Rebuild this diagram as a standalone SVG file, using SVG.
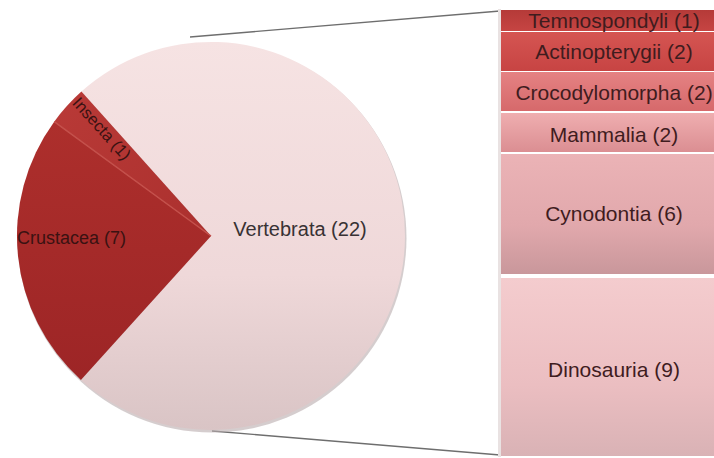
<svg xmlns="http://www.w3.org/2000/svg" width="714" height="458" viewBox="0 0 714 458">
<style>
.lbl{font-family:"Liberation Sans",Arial,sans-serif;fill:#3f1c1e;}
.bar{font-size:21px;text-anchor:middle;}
.conn{stroke:#6e6e6e;stroke-width:1.4;fill:none;}
</style>
<defs>
<linearGradient id="gV" x1="0" y1="0" x2="0" y2="1"><stop offset="0" stop-color="#f6e3e3"/><stop offset="0.6" stop-color="#efd8d9"/><stop offset="1" stop-color="#d9c4c5"/></linearGradient>
<linearGradient id="gC" x1="0" y1="0" x2="0" y2="1"><stop offset="0" stop-color="#ad2f2c"/><stop offset="1" stop-color="#9d2526"/></linearGradient>
<linearGradient id="gI" x1="0" y1="0" x2="1" y2="1"><stop offset="0" stop-color="#b93a37"/><stop offset="1" stop-color="#ab302e"/></linearGradient>
<linearGradient id="g1" x1="0" y1="0" x2="0" y2="1"><stop offset="0" stop-color="#b53a38"/><stop offset="1" stop-color="#c64543"/></linearGradient>
<linearGradient id="g2" x1="0" y1="0" x2="0" y2="1"><stop offset="0" stop-color="#d55552"/><stop offset="1" stop-color="#c74443"/></linearGradient>
<linearGradient id="g3" x1="0" y1="0" x2="0" y2="1"><stop offset="0" stop-color="#e58283"/><stop offset="1" stop-color="#d6696b"/></linearGradient>
<linearGradient id="g4" x1="0" y1="0" x2="0" y2="1"><stop offset="0" stop-color="#efaeb0"/><stop offset="1" stop-color="#db8e92"/></linearGradient>
<linearGradient id="g5" x1="0" y1="0" x2="0" y2="1"><stop offset="0" stop-color="#ebb3b6"/><stop offset="0.6" stop-color="#e1a8ac"/><stop offset="1" stop-color="#c9979b"/></linearGradient>
<linearGradient id="g6" x1="0" y1="0" x2="0" y2="1"><stop offset="0" stop-color="#f4ccce"/><stop offset="0.6" stop-color="#ebbec1"/><stop offset="1" stop-color="#d9b2b5"/></linearGradient>
<clipPath id="pieClip"><circle cx="211" cy="236" r="194"/></clipPath>
</defs>
<rect width="714" height="458" fill="#ffffff"/>

<g id="connectors">
<line class="conn" x1="190" y1="37" x2="500" y2="11"/>
<line class="conn" x1="212" y1="431" x2="500" y2="455"/>
</g>

<circle cx="212" cy="238" r="194.5" fill="#b9acad" opacity="0.6"/>

<g id="vertebrata">
<path d="M211,236 L81.4,91.6 A194,194 0 1 1 80.9,379.9 Z" fill="url(#gV)"/>
<text class="lbl" x="300" y="236" font-size="20" text-anchor="middle" style="fill:#383234">Vertebrata (22)</text>
</g>
<g id="crustacea">
<path d="M211,236 L80.9,379.9 A194,194 0 0 1 54.2,121.7 Z" fill="url(#gC)"/>
<text class="lbl" x="17" y="244" font-size="18" style="fill:#3a1212">Crustacea (7)</text>
</g>
<g id="insecta">
<path d="M211,236 L54.2,121.7 A194,194 0 0 1 81.4,91.6 Z" fill="url(#gI)"/>
<line x1="211" y1="236" x2="54.2" y2="121.7" stroke="#c4504b" stroke-width="1.5"/>
<g clip-path="url(#pieClip)">
<text class="lbl" transform="translate(71.6,103.5) rotate(48)" font-size="16.5" style="fill:#3a1212">Insecta (1)</text>
</g>
</g>

<rect x="498" y="9" width="3" height="448" fill="#e9e2e2"/>

<g id="temnospondyli">
<rect x="501" y="10" width="220" height="21" fill="url(#g1)"/>
<text class="lbl bar" x="614" y="28">Temnospondyli (1)</text>
</g>
<g id="actinopterygii">
<rect x="501" y="32" width="220" height="39" fill="url(#g2)"/>
<text class="lbl bar" x="614" y="59">Actinopterygii (2)</text>
</g>
<g id="crocodylomorpha">
<rect x="501" y="72" width="220" height="39" fill="url(#g3)"/>
<text class="lbl bar" x="614" y="100">Crocodylomorpha (2)</text>
</g>
<g id="mammalia">
<rect x="501" y="113" width="220" height="39" fill="url(#g4)"/>
<text class="lbl bar" x="614" y="142">Mammalia (2)</text>
</g>
<g id="cynodontia">
<rect x="501" y="154" width="220" height="120" fill="url(#g5)"/>
<text class="lbl bar" x="614" y="221">Cynodontia (6)</text>
</g>
<g id="dinosauria">
<rect x="501" y="278" width="220" height="178" fill="url(#g6)"/>
<text class="lbl bar" x="614" y="377">Dinosauria (9)</text>
</g>
</svg>
